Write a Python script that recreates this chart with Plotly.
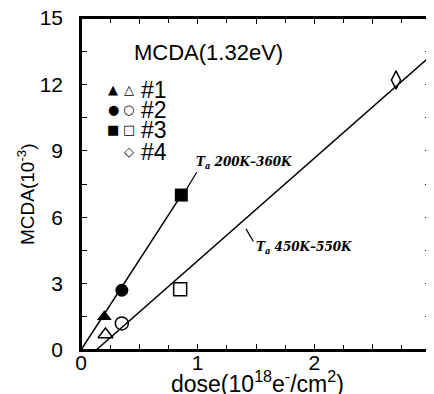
import plotly.graph_objects as go

# data (dose in 1e18 e-/cm^2, MCDA in 1e-3)
filled_x = [0.20, 0.35, 0.86]
filled_y = [1.5, 2.7, 7.0]
filled_sym = ["triangle-up", "circle", "square"]
open_x = [0.21, 0.35, 0.85, 2.70]
open_y = [0.7, 1.2, 2.75, 12.2]
open_sym = ["triangle-up-open", "circle-open", "square-open", "diamond-tall-open"]

low_line_x = [0.0, 0.86]
low_line_y = [0.0, 7.0]
high_line_x = [0.13, 3.0]
high_line_y = [0.0, 13.3]

x_tickvals = [0, 0.5, 1, 1.5, 2, 2.5, 3]
x_ticktext = ["0", "", "1", "", "2", "", "3"]
y_tickvals = [0, 1.5, 3, 4.5, 6, 7.5, 9, 10.5, 12, 13.5, 15]
y_ticktext = ["0", "", "3", "", "6", "", "9", "", "12", "", "15"]

legend_labels = ["#1", "#2", "#3", "#4"]
legend_filled = ["▲", "●", "■", ""]
legend_open = ["△", "○", "□", "◇"]

fig = go.Figure()
fig.add_trace(go.Scatter(x=low_line_x, y=low_line_y, mode="lines",
                         line=dict(color="black", width=1.5), showlegend=False))
fig.add_trace(go.Scatter(x=high_line_x, y=high_line_y, mode="lines",
                         line=dict(color="black", width=1.5), showlegend=False))
fig.add_trace(go.Scatter(x=filled_x, y=filled_y, mode="markers",
                         marker=dict(symbol=filled_sym, size=13, color="black"),
                         showlegend=False))
fig.add_trace(go.Scatter(x=open_x, y=open_y, mode="markers",
                         marker=dict(symbol=open_sym, size=13, color="black",
                                     line=dict(width=1.5, color="black")),
                         showlegend=False))

SANS = "Liberation Sans, Arial"
SERIF = "DejaVu Serif"
ann = []
ann.append(dict(x=0.44, y=13.45, xref="x", yref="y", text="MCDA(1.32eV)", showarrow=False,
                xanchor="left", yanchor="middle",
                font=dict(family=SANS, size=22, color="black")))
row_y = [11.75, 10.85, 9.95, 8.95]
for i in range(4):
    if legend_filled[i]:
        ann.append(dict(x=0.277, y=row_y[i], xref="x", yref="y", text=legend_filled[i],
                        showarrow=False, font=dict(family="DejaVu Sans", size=13, color="black")))
    ann.append(dict(x=0.41, y=row_y[i], xref="x", yref="y", text=legend_open[i],
                    showarrow=False, font=dict(family="DejaVu Sans", size=13, color="black")))
    ann.append(dict(x=0.50, y=row_y[i], xref="x", yref="y", text=legend_labels[i],
                    showarrow=False, xanchor="left",
                    font=dict(family="Liberation Sans Narrow, " + SANS, size=23, color="black")))

ann.append(dict(x=0.885, y=7.1, ax=1.0, ay=8.1, xref="x", yref="y", axref="x", ayref="y",
                text="", showarrow=True, arrowhead=0, arrowwidth=1.2, arrowcolor="black"))
ann.append(dict(x=0.97, y=8.45, xref="x", yref="y", xanchor="left", yanchor="middle",
                text="<b><i>T<sub>a</sub> 200K–360K</i></b>", showarrow=False,
                font=dict(family=SERIF, size=12, color="black")))
ann.append(dict(x=1.414, y=5.47, ax=1.485, ay=4.84, xref="x", yref="y", axref="x", ayref="y",
                text="", showarrow=True, arrowhead=0, arrowwidth=1.2, arrowcolor="black"))
ann.append(dict(x=1.48, y=4.6, xref="x", yref="y", xanchor="left", yanchor="middle",
                text="<b><i>T<sub>a</sub> 450K–550K</i></b>", showarrow=False,
                font=dict(family=SERIF, size=12, color="black")))
# axis titles
ann.append(dict(x=0.503, y=-0.097, xref="paper", yref="paper", xanchor="center", yanchor="middle",
                text="dose(10<sup>18</sup>e<sup>-</sup>/cm<sup>2</sup>)", showarrow=False,
                font=dict(family=SANS, size=23, color="black")))
ann.append(dict(x=-0.157, y=0.47, xref="paper", yref="paper", xanchor="center", yanchor="middle",
                text="MCDA(10<sup>-3</sup>)", showarrow=False, textangle=-90,
                font=dict(family=SANS, size=19, color="black")))

# the page body has an 8px margin, so the margins are offset to compensate
fig.update_layout(
    width=434, height=394,
    margin=dict(l=73, r=11, t=10, b=52),
    paper_bgcolor="white", plot_bgcolor="white",
    annotations=ann,
    shapes=[dict(type="rect", xref="paper", yref="paper", x0=0, y0=0, x1=1, y1=1,
                 line=dict(color="black", width=2), fillcolor="rgba(0,0,0,0)", layer="above")],
    xaxis=dict(range=[0, 3], tickvals=x_tickvals, ticktext=x_ticktext, ticks="inside", ticklen=6,
               tickwidth=1.3, tickcolor="black", showline=True, linecolor="black",
               linewidth=1.5, mirror="allticks", showgrid=False, zeroline=False, automargin=False,
               ticklabelstandoff=-7, ticklabeloverflow="allow",
               minor=dict(dtick=0.25, ticks="inside", ticklen=5, tickwidth=1.2,
                          tickcolor="black", showgrid=False),
               tickfont=dict(family=SANS, size=21, color="black")),
    yaxis=dict(range=[0, 15], tickvals=y_tickvals, ticktext=y_ticktext, ticks="inside", ticklen=6,
               tickwidth=1.3, tickcolor="black", showline=True, linecolor="black",
               linewidth=1.5, mirror="allticks", showgrid=False, zeroline=False, automargin=False,
               ticklabelstandoff=12, ticklabeloverflow="allow",
               tickfont=dict(family=SANS, size=21, color="black")),
)

fig.write_html("out.html")
